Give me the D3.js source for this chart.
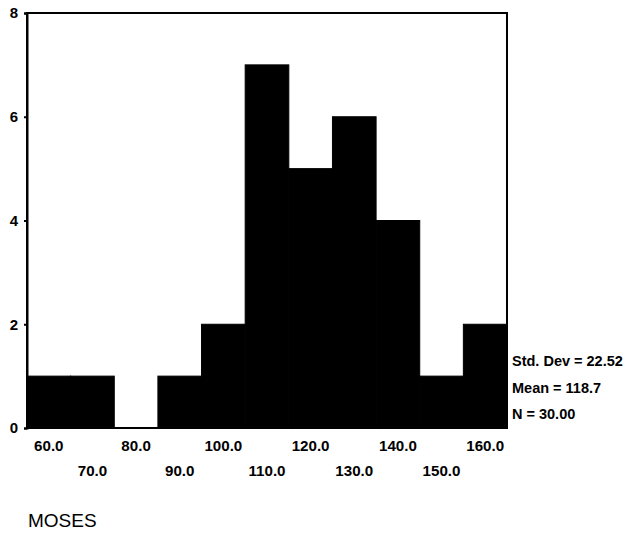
<!DOCTYPE html>
<html>
<head>
<meta charset="utf-8">
<script src="https://cdn.jsdelivr.net/npm/d3@7"></script>
<style>
  body { margin: 0; background: #fff; }
  svg text { font-family: "Liberation Sans", Arial, sans-serif; }
</style>
</head>
<body>
<div id="hist"></div>
<script>
// histogram bins (midpoints) and counts
const midpoints = [60, 70, 80, 90, 100, 110, 120, 130, 140, 150, 160];
const counts = [1, 1, 0, 1, 2, 7, 5, 6, 4, 1, 2];
const yTicks = [0, 2, 4, 6, 8];
const stats = ["Std. Dev = 22.52", "Mean = 118.7", "N = 30.00"];
const varName = "MOSES";
const binWidth = 10;

const W = 635, H = 535;
const plot = { left: 27, right: 507, top: 13, bottom: 428 };

const svg = d3.select("#hist")
  .append("svg")
    .attr("width", W)
    .attr("height", H);

// scales
const x = d3.scaleLinear()
  .domain([d3.min(midpoints) - binWidth / 2, d3.max(midpoints) + binWidth / 2])
  .range([plot.left, plot.right]);

const y = d3.scaleLinear()
  .domain([0, 8])
  .range([plot.bottom, plot.top]);

// bars (stroked so neighbours merge into one solid block)
svg.selectAll("rect.bar")
  .data(midpoints)
  .enter()
  .append("rect")
    .attr("class", "bar")
    .attr("x", d => x(d - binWidth / 2))
    .attr("y", (d, i) => y(counts[i]))
    .attr("width", x(binWidth) - x(0))
    .attr("height", (d, i) => y(0) - y(counts[i]))
    .attr("fill", "#000")
    .attr("stroke", "#000")
    .attr("stroke-width", 1);

// frame
svg.append("rect")
  .attr("x", plot.left)
  .attr("y", plot.top)
  .attr("width", plot.right - plot.left)
  .attr("height", plot.bottom - plot.top)
  .attr("fill", "none")
  .attr("stroke", "#000")
  .attr("stroke-width", 2);

// y axis
const yAxis = svg.append("g")
  .attr("transform", `translate(${plot.left},0)`)
  .call(d3.axisLeft(y).tickValues(yTicks).tickSize(3).tickPadding(6).tickFormat(d3.format("d")));
yAxis.select(".domain").attr("stroke-width", 2);
yAxis.selectAll(".tick line").attr("stroke-width", 2);
yAxis.selectAll("text")
  .attr("font-size", 15)
  .attr("font-weight", "bold")
  .attr("fill", "#000");

// x labels in two staggered rows
svg.selectAll("text.xlab")
  .data(midpoints)
  .enter()
  .append("text")
    .attr("class", "xlab")
    .attr("x", d => x(d))
    .attr("y", (d, i) => i % 2 === 0 ? 451 : 476)
    .attr("text-anchor", "middle")
    .attr("font-size", 14)
    .attr("font-weight", "bold")
    .attr("transform", d => `translate(${x(d)},0) scale(1.08,1) translate(${-x(d)},0)`)
    .text(d => d.toFixed(1));

// summary statistics
svg.selectAll("text.stat")
  .data(stats)
  .enter()
  .append("text")
    .attr("class", "stat")
    .attr("x", 512)
    .attr("y", (d, i) => 366 + i * 26.5)
    .attr("font-size", 14.5)
    .attr("font-weight", "bold")
    .text(d => d);

// variable name
svg.append("text")
  .attr("x", 28)
  .attr("y", 527)
  .attr("font-size", 19)
  .text(varName);
</script>
</body>
</html>
